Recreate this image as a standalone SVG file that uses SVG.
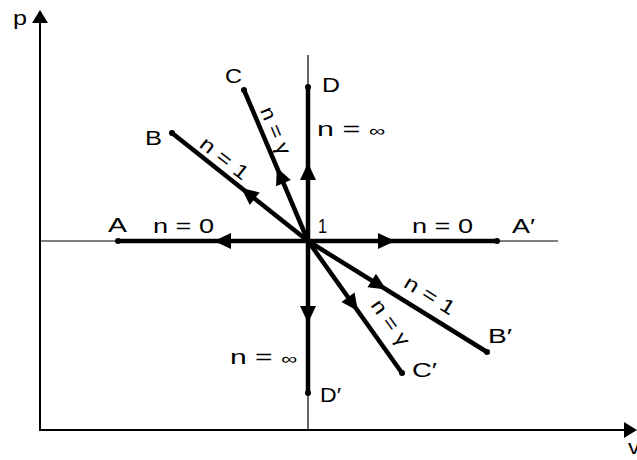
<svg xmlns="http://www.w3.org/2000/svg" width="637" height="460" viewBox="0 0 637 460">
<style>
.t{font-family:"Liberation Sans",Arial,sans-serif;font-size:20px;fill:#000}
.thick{stroke:#000;stroke-width:4.5;fill:none}
.thin{stroke:#000;stroke-width:1.2;fill:none}
.axis{stroke:#000;stroke-width:2;fill:none}
.dot{fill:#000}
</style>
<defs>
<path id="ah" d="M0,0 L-17,-8 L-17,8 Z" fill="#000"/>
</defs>
<rect width="637" height="460" fill="#fff"/>
<g id="axes">
<line class="axis" x1="40" y1="431" x2="40" y2="20"/>
<path d="M40,10 L32,23 L48,23 Z" fill="#000"/>
<line class="axis" x1="39" y1="430" x2="627" y2="430"/>
<path d="M637,430 L624,422 L624,438 Z" fill="#000"/>
<text class="t" x="13" y="25" textLength="14" lengthAdjust="spacingAndGlyphs">p</text>
<text class="t" x="628" y="454" textLength="12" lengthAdjust="spacingAndGlyphs">v</text>
<line class="thin" x1="40" y1="241" x2="558" y2="241"/>
<line class="thin" x1="308" y1="55" x2="308" y2="430"/>
</g>
<g id="connectors">
<line class="thick" x1="308" y1="241" x2="118" y2="241"/>
<line class="thick" x1="308" y1="241" x2="497" y2="241"/>
<line class="thick" x1="308" y1="241" x2="308" y2="87"/>
<line class="thick" x1="308" y1="241" x2="308" y2="393"/>
<line class="thick" x1="308" y1="241" x2="172" y2="133"/>
<line class="thick" x1="308" y1="241" x2="244" y2="90"/>
<line class="thick" x1="308" y1="241" x2="487" y2="352"/>
<line class="thick" x1="308" y1="241" x2="402" y2="373"/>
<use href="#ah" transform="translate(214,241) rotate(180)"/>
<use href="#ah" transform="translate(395,241)"/>
<use href="#ah" transform="translate(308,163) rotate(-90)"/>
<use href="#ah" transform="translate(308,323) rotate(90)"/>
<use href="#ah" transform="translate(241.4,188.1) rotate(-141.5)"/>
<use href="#ah" transform="translate(276.8,167.4) rotate(-113)"/>
<use href="#ah" transform="translate(386.2,289.5) rotate(31.8)"/>
<use href="#ah" transform="translate(357.9,311.1) rotate(54.5)"/>
<text class="t" x="153" y="233" textLength="61" lengthAdjust="spacingAndGlyphs">n = 0</text>
<text class="t" x="412" y="233" textLength="61" lengthAdjust="spacingAndGlyphs">n = 0</text>
<text class="t" x="317" y="136" textLength="68" lengthAdjust="spacingAndGlyphs">n = <tspan font-size="15">∞</tspan></text>
<text class="t" x="230" y="364" textLength="67" lengthAdjust="spacingAndGlyphs">n = <tspan font-size="15">∞</tspan></text>
<text class="t" text-anchor="middle" transform="translate(220.3,163.7) rotate(38.4)" textLength="56" lengthAdjust="spacingAndGlyphs">n = 1</text>
<text class="t" text-anchor="middle" transform="translate(269.5,133.3) rotate(67)" textLength="50" lengthAdjust="spacingAndGlyphs">n = γ</text>
<text class="t" text-anchor="middle" transform="translate(426.3,301.1) rotate(31.8)" textLength="56" lengthAdjust="spacingAndGlyphs">n = 1</text>
<text class="t" text-anchor="middle" transform="translate(385,326.5) rotate(54.5)" textLength="52" lengthAdjust="spacingAndGlyphs">n = γ</text>
</g>
<g id="node-1">
<text class="t" x="318" y="233" textLength="9" lengthAdjust="spacingAndGlyphs">1</text>
</g>
<g id="node-A">
<circle class="dot" cx="118" cy="241" r="3"/>
<text class="t" x="108" y="232" textLength="19" lengthAdjust="spacingAndGlyphs">A</text>
</g>
<g id="node-A-prime">
<circle class="dot" cx="497" cy="241" r="3"/>
<text class="t" x="512" y="233" textLength="23" lengthAdjust="spacingAndGlyphs">A′</text>
</g>
<g id="node-B">
<circle class="dot" cx="172" cy="133" r="3"/>
<text class="t" x="145" y="145" textLength="17" lengthAdjust="spacingAndGlyphs">B</text>
</g>
<g id="node-B-prime">
<circle class="dot" cx="487" cy="352" r="3"/>
<text class="t" x="488" y="343" textLength="24" lengthAdjust="spacingAndGlyphs">B′</text>
</g>
<g id="node-C">
<circle class="dot" cx="244" cy="90" r="3"/>
<text class="t" x="225" y="83" textLength="17" lengthAdjust="spacingAndGlyphs">C</text>
</g>
<g id="node-C-prime">
<circle class="dot" cx="402" cy="373" r="3"/>
<text class="t" x="412" y="377" textLength="25" lengthAdjust="spacingAndGlyphs">C′</text>
</g>
<g id="node-D">
<circle class="dot" cx="308" cy="87" r="3"/>
<text class="t" x="322" y="92" textLength="18" lengthAdjust="spacingAndGlyphs">D</text>
</g>
<g id="node-D-prime">
<circle class="dot" cx="308" cy="393" r="3"/>
<text class="t" x="320" y="402" textLength="21" lengthAdjust="spacingAndGlyphs">D′</text>
</g>
</svg>
